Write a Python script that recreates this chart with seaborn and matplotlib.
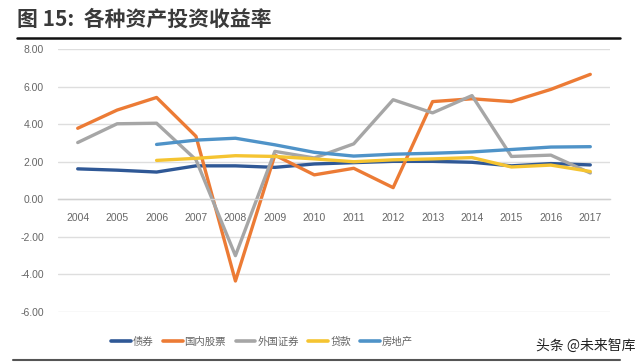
import numpy as np
import pandas as pd
import matplotlib
matplotlib.use("Agg")
import matplotlib.pyplot as plt
import seaborn as sns
from matplotlib.lines import Line2D

years = list(range(2004, 2018))
bonds = [1.62, 1.55, 1.45, 1.78, 1.78, 1.70, 1.88, 1.95, 2.02, 2.02, 1.97, 1.78, 1.90, 1.83]
domestic_stocks = [3.78, 4.75, 5.42, 3.35, -4.35, 2.35, 1.30, 1.65, 0.62, 5.20, 5.35, 5.20, 5.85, 6.65]
foreign_securities = [3.02, 4.02, 4.05, 2.10, -3.00, 2.55, 2.20, 2.95, 5.30, 4.60, 5.52, 2.28, 2.35, 1.40]
loans = [np.nan, np.nan, 2.07, 2.18, 2.32, 2.28, 2.15, 2.00, 2.10, 2.15, 2.22, 1.72, 1.82, 1.48]
real_estate = [np.nan, np.nan, 2.92, 3.15, 3.25, 2.90, 2.50, 2.30, 2.40, 2.45, 2.52, 2.65, 2.78, 2.80]
series_names = ["债券", "国内股票", "外国证券", "贷款", "房地产"]
colors = ["#2f5896", "#ec7b35", "#a6a6a6", "#f5c431", "#4f93c8"]
y_ticks = [8, 6, 4, 2, 0, -2, -4, -6]

rows = []
for name, vals in zip(series_names, [bonds, domestic_stocks, foreign_securities, loans, real_estate]):
    for y, v in zip(years, vals):
        if not np.isnan(v):
            rows.append({"年份": y, "收益率": v, "资产": name})
df = pd.DataFrame(rows)

sns.set_theme(style="white")
plt.rcParams['font.family'] = ['Noto Sans CJK SC', 'DejaVu Sans']

fig = plt.figure(figsize=(6.4, 3.64), dpi=100)
ax = fig.add_axes([58/640, 1-312/364, (610-58)/640, (312-49)/364])

sns.lineplot(data=df, x="年份", y="收益率", hue="资产", hue_order=series_names,
             palette=colors, linewidth=2.4, ax=ax, legend=False, sort=True)

ax.set_xlim(2003.5, 2017.5)
ax.set_ylim(-6, 8)
ax.set_yticks(y_ticks)
ax.set_yticklabels([f"{t:.2f}" for t in y_ticks], fontsize=7.5, color="#666666",
                   family=['Liberation Sans', 'DejaVu Sans'])
ax.grid(axis="y", color="#dedede", linewidth=1)
ax.set_axisbelow(True)
for s in ["top", "right", "left"]:
    ax.spines[s].set_visible(False)
ax.spines["bottom"].set_position(("data", 0))
ax.spines["bottom"].set_color("#d0d0d0")
ax.spines["bottom"].set_linewidth(1)
ax.set_xticks(years)
ax.set_xticklabels([str(y) for y in years], fontsize=7.5, color="#666666",
                   family=['Liberation Sans', 'DejaVu Sans'])
ax.set_xticks([y + 0.5 for y in years[:-1]] + [2003.5, 2017.5], minor=True)
ax.tick_params(axis="x", which="major", length=0, pad=10)
ax.tick_params(axis="x", which="minor", length=4, color="#d0d0d0", direction="out")
ax.tick_params(axis="y", length=0, pad=10)
ax.set_xlabel("")
ax.set_ylabel("")

handles = [Line2D([0], [0], color=c, lw=2.6) for c in colors]
leg = fig.legend(handles, series_names, loc="center", bbox_to_anchor=(262/640, 1-342/364),
                 ncol=5, frameon=False, fontsize=7.5, handlelength=1.9, handletextpad=0.2,
                 columnspacing=0.9)
for t in leg.get_texts():
    t.set_color("#666666")

fig.text(17/640, 1-19/364, "图 15:  各种资产投资收益率", fontsize=15, fontweight="bold",
         color="#3a3a3a", va="center", ha="left")
fig.add_artist(Line2D([17/640, 620/640], [1-38/364, 1-38/364], color="#111111", lw=1.8))
fig.add_artist(Line2D([13/640, 620/640], [1-360/364, 1-360/364], color="#555555", lw=1.5))
fig.text(635/640, 1-346/364, "头条 @未来智库", fontsize=10, color="#222222",
         ha="right", va="center")

fig.savefig("out.png", dpi=100)
